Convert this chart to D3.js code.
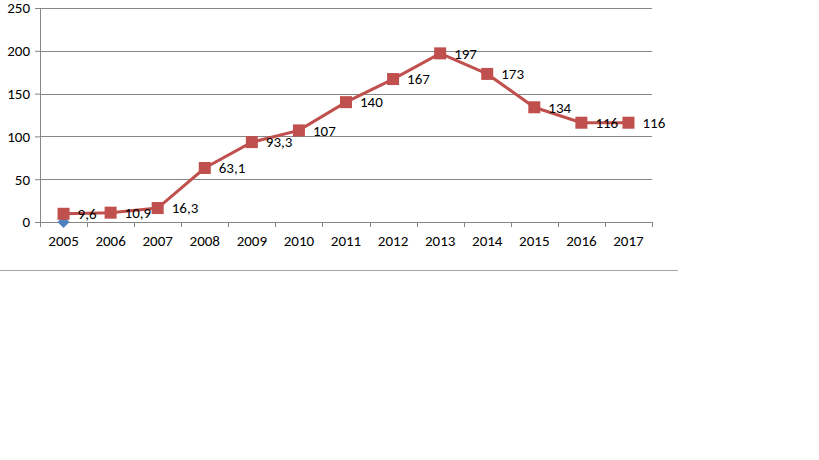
<!DOCTYPE html>
<html>
<head>
<meta charset="utf-8">
<script src="https://cdn.jsdelivr.net/npm/d3@7"></script>
<style>
  body { margin: 0; background: #fff; }
  text { font-family: Carlito, Calibri, "Open Sans", sans-serif; font-size: 15px; fill: #000; }
</style>
</head>
<body>
<div id="canvas"></div>
<script>
const years = ["2005","2006","2007","2008","2009","2010","2011","2012","2013","2014","2015","2016","2017"];
const values = [9.6, 10.9, 16.3, 63.1, 93.3, 107, 140, 167, 197, 173, 134, 116, 116];
const labels = ["9,6","10,9","16,3","63,1","93,3","107","140","167","197","173","134","116","116"];
const blueYears = ["2005"];
const blueValues = [0];
const yTicks = [0, 50, 100, 150, 200, 250];

const width = 819;
const height = 460;
const margin = { top: 8, left: 40, bottom: 238, right: 167 };
const iwidth = width - margin.left - margin.right;
const iheight = height - margin.top - margin.bottom;

const svg = d3.select("#canvas").append("svg")
  .attr("width", width)
  .attr("height", height);

// bottom border of chart area
svg.append("line")
  .attr("x1", 0).attr("x2", 678)
  .attr("y1", 270.5).attr("y2", 270.5)
  .attr("stroke", "#a6a6a6").attr("stroke-width", 1);

const g = svg.append("g")
  .attr("transform", `translate(${margin.left}, ${margin.top})`);

const x = d3.scaleBand().domain(years).range([0, iwidth]);
const y = d3.scaleLinear().domain([0, 250]).range([iheight, 0]);

// gridlines
g.selectAll(".grid").data(yTicks.slice(1)).enter()
  .append("line")
  .attr("x1", 0).attr("x2", iwidth)
  .attr("y1", d => Math.round(y(d)) + 0.5).attr("y2", d => Math.round(y(d)) + 0.5)
  .attr("stroke", "#868686");

// y axis
const yAxis = g.append("g")
  .call(d3.axisLeft(y).tickValues(yTicks).tickSize(5).tickPadding(5));
yAxis.select(".domain").attr("stroke", "#868686");
yAxis.selectAll(".tick line").attr("stroke", "#868686");
yAxis.selectAll("text").style("font-size", "15px");

// x axis
const xAxis = g.append("g")
  .attr("transform", `translate(0, ${iheight})`)
  .call(d3.axisBottom(x).tickSize(0).tickPadding(13));
xAxis.select(".domain").attr("stroke", "#868686");
xAxis.selectAll(".tick line").remove();
xAxis.selectAll("text").style("font-size", "15px");
g.selectAll(".xtick").data(d3.range(years.length + 1)).enter()
  .append("line")
  .attr("x1", i => Math.round(i * x.step()) + 0.5)
  .attr("x2", i => Math.round(i * x.step()) + 0.5)
  .attr("y1", iheight).attr("y2", iheight + 5)
  .attr("stroke", "#868686");

const cx = d => x(d) + x.bandwidth() / 2;

// blue series
g.selectAll(".blue").data(blueYears).enter()
  .append("path")
  .attr("d", d3.symbol(d3.symbolDiamond2, 90)())
  .attr("transform", (d, i) => `translate(${cx(d)}, ${y(blueValues[i])})`)
  .attr("fill", "#4F81BD");

// red line
const line = d3.line()
  .x((d, i) => cx(years[i]))
  .y(d => y(d));
g.append("path")
  .datum(values)
  .attr("d", line)
  .attr("fill", "none")
  .attr("stroke", "#C0504D")
  .attr("stroke-width", 3);

g.selectAll(".pt").data(values).enter()
  .append("rect")
  .attr("x", (d, i) => cx(years[i]) - 6)
  .attr("y", d => y(d) - 6)
  .attr("width", 12).attr("height", 12)
  .attr("fill", "#C0504D");

g.selectAll(".lbl").data(values).enter()
  .append("text")
  .attr("x", (d, i) => cx(years[i]) + 14)
  .attr("y", d => y(d))
  .attr("dy", "0.35em")
  .text((d, i) => labels[i]);
</script>
</body>
</html>
